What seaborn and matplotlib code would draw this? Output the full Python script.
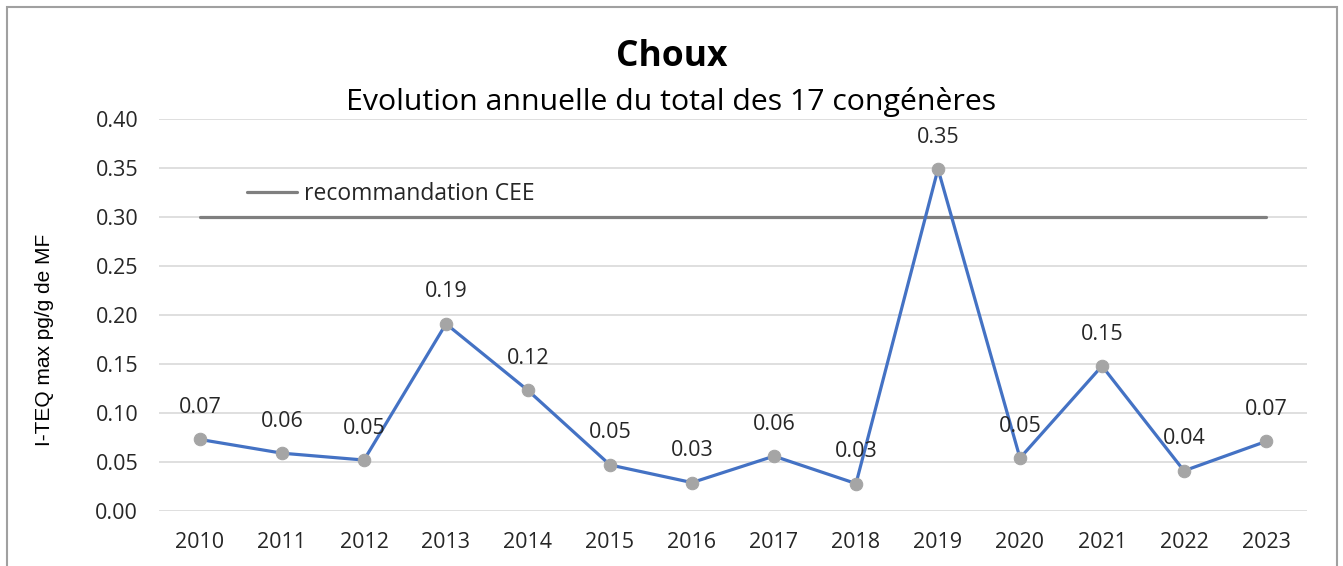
import numpy as np
import pandas as pd
import matplotlib.pyplot as plt
import seaborn as sns
from matplotlib.patches import Rectangle

years = [2010, 2011, 2012, 2013, 2014, 2015, 2016, 2017, 2018, 2019, 2020, 2021, 2022, 2023]
values = [0.073, 0.059, 0.052, 0.191, 0.123, 0.047, 0.029, 0.056, 0.028, 0.349, 0.054, 0.148, 0.041, 0.071]
reco_value = 0.30
reco_label = "recommandation CEE"

df = pd.DataFrame({"annee": years, "iteq": values})
df["reco"] = reco_value

sns.set_style("white")
plt.rcParams['font.family'] = ['Open Sans', 'DejaVu Sans']

fig = plt.figure(figsize=(13.43, 5.66), dpi=100)
ax = fig.add_axes([159/1343, 1-511/566, (1307-159)/1343, (511-119)/566])

# reference line
sns.lineplot(data=df, x="annee", y="reco", ax=ax, color="#7f7f7f", linewidth=2.3, label=reco_label)
# main series
sns.lineplot(data=df, x="annee", y="iteq", ax=ax, color="#4472C4", linewidth=2.3,
             marker="o", markersize=9, markerfacecolor="#A5A5A5", markeredgecolor="#A5A5A5",
             label="_nolegend_")

for x, v in zip(years, values):
    ax.annotate(f"{v:.2f}", (x, v), xytext=(0, 23), textcoords="offset points",
                ha="center", va="center", fontsize=15.5, color="#262626")

ax.set_xlim(2009.5, 2023.5)
ax.set_ylim(0, 0.40)
ax.set_xticks(years)
ax.set_xticklabels([str(y) for y in years])
ax.set_yticks(np.arange(0, 0.41, 0.05))
ax.set_yticklabels([f"{t:.2f}" for t in np.arange(0, 0.41, 0.05)])
ax.tick_params(axis="both", length=0, labelsize=15.5, labelcolor="#262626", pad=15)
ax.grid(axis="y", color="#D9D9D9", linewidth=1.2)
ax.set_axisbelow(True)
for s in ax.spines.values():
    s.set_visible(False)
ax.set_xlabel("")
ax.set_ylabel("")

leg = ax.legend(loc="center left", bbox_to_anchor=(247/1343, 1-194/566), bbox_transform=fig.transFigure,
                frameon=False, fontsize=16.5, handlelength=2.2, handletextpad=0.3,
                borderpad=0, borderaxespad=0)
for t in leg.get_texts():
    t.set_color("#262626")

fig.text(0.5, 1-57/566, "Choux", ha="center", va="center", fontsize=25.5, fontweight="bold", color="black")
fig.text(0.5, 1-102/566, "Evolution annuelle du total des 17 congénères", ha="center", va="center",
         fontsize=21.8, color="black")
fig.text(45/1343, 1-340/566, "I-TEQ max pg/g de MF", rotation=90, ha="center", va="center",
         fontsize=15, color="black", family=["Liberation Sans", "DejaVu Sans"])

fig.patches.append(Rectangle((7/1343, -0.1), (1337-7)/1343, 1.1-7/566, transform=fig.transFigure,
                             fill=False, edgecolor="#A0A0A0", linewidth=1.5))

fig.savefig("out.png", dpi=100, facecolor="white")
